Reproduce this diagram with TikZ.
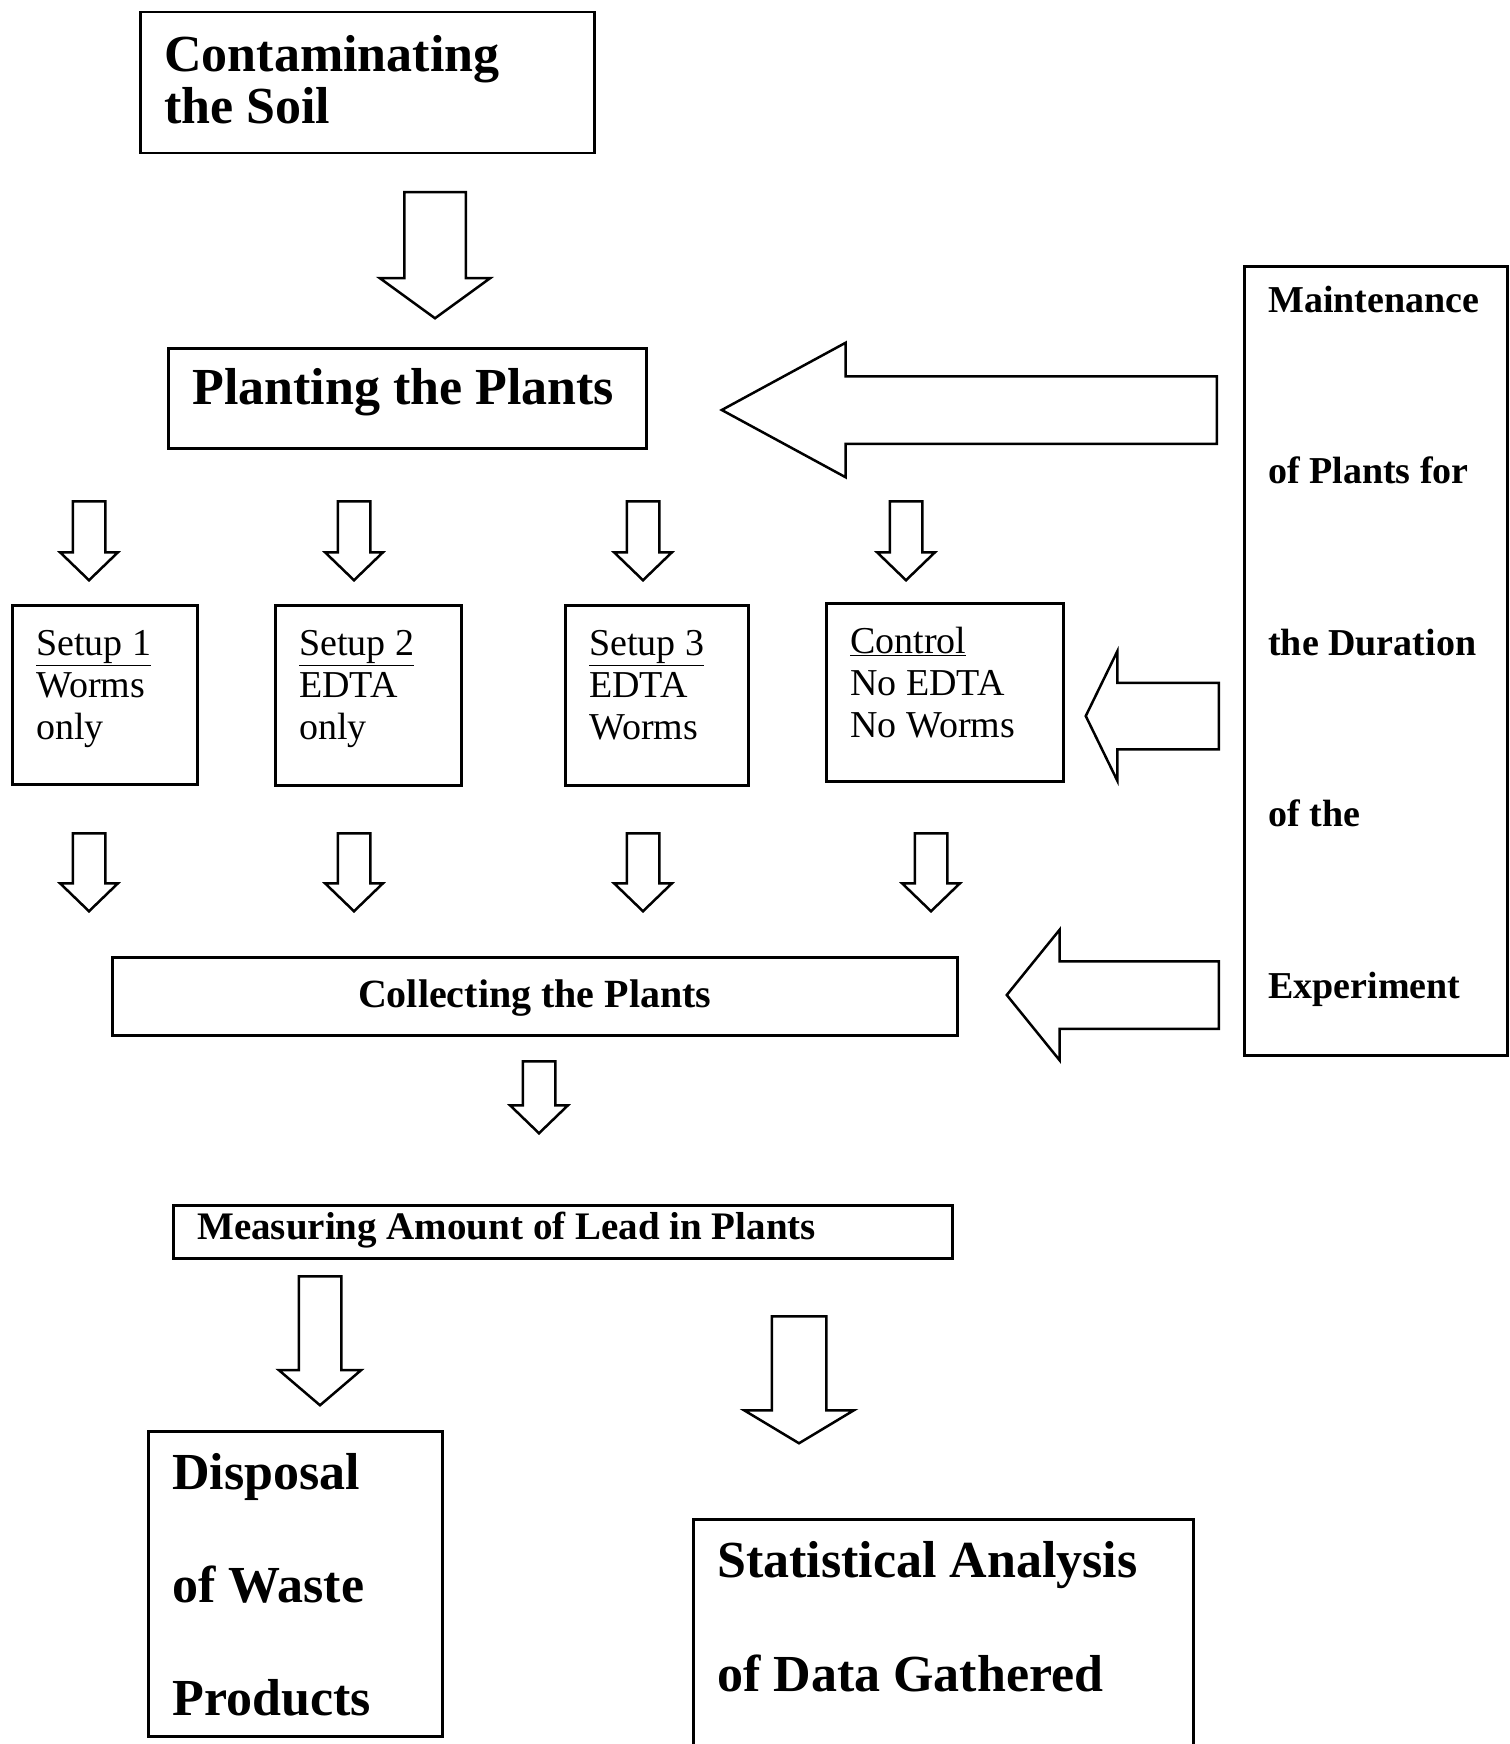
\documentclass[tikz,border=0pt]{standalone}
\usepackage{fontspec}
\setmainfont{Liberation Serif}
\usetikzlibrary{shapes.arrows}

\begin{document}
\begin{tikzpicture}[x=1pt, y=-1pt,
  box/.style={draw, line width=2.5pt, anchor=north west, align=flush left, inner xsep=24pt, inner ysep=0pt},
  big/.style={font=\bfseries\fontsize{52}{52}\selectfont},
  setup/.style={box, text height=50pt, font=\fontsize{38}{42}\selectfont},
  blk/.style={single arrow, draw, line width=2.5pt, inner xsep=0pt, anchor=tail},
  thin/.style={blk, inner ysep=15pt, single arrow head extend=12.5pt, single arrow tip angle=92}]
\useasboundingbox (0,0) rectangle (1509,1744);

\node[box, big, text width=406pt, text height=59pt, text depth=82pt] (soil) at (139,11) {Contaminating\\the Soil};
\node[box, big, text width=430pt, text height=56pt, text depth=44pt] (plant) at (167,347) {Planting the Plants};

\node[setup, text width=137pt, text depth=129pt] (s1) at (11,604) {\underline{Setup 1}\\Worms\\only};
\node[setup, text width=138pt, text depth=130pt] (s2) at (274,604) {\underline{Setup 2}\\EDTA\\only};
\node[setup, text width=135pt, text depth=130pt] (s3) at (564,604) {\underline{Setup 3}\\EDTA\\Worms};
\node[setup, text width=189pt, text depth=128pt] (ctrl) at (825,602) {\underline{Control}\\No EDTA\\No Worms};

\node[box, font=\bfseries\fontsize{38}{171.5}\selectfont, text width=215pt, text height=46pt, text depth=743pt] (maint) at (1243,265)
  {Maintenance\\of Plants for\\the Duration\\of the\\Experiment};

\node[box, font=\bfseries\fontsize{40}{42}\selectfont, align=flush center, text width=797pt, text height=50pt, text depth=28pt] (coll) at (111,956) {Collecting the Plants};
\node[box, font=\bfseries\fontsize{39}{42}\selectfont, text width=731pt, text height=34pt, text depth=19pt] (meas) at (172,1204) {Measuring Amount of Lead in Plants};

\node[box, font=\bfseries\fontsize{52}{113}\selectfont, text width=246pt, text height=58pt, text depth=247pt] (disp) at (147,1430)
  {Disposal\\of Waste\\Products};
\node[box, font=\bfseries\fontsize{52}{114}\selectfont, text width=452pt, text height=58pt, text depth=230pt] (stat) at (692,1518)
  {Statistical Analysis\\of Data Gathered};

\node[blk, rotate=-90, minimum height=126pt, inner ysep=29.5pt, single arrow head extend=24.5pt, single arrow tip angle=108] (a0) at (435,191) {};
\foreach \x/\n in {89/1, 354/2, 643/3, 906/4}
  \node[thin, rotate=-90, minimum height=79pt] (b\n) at (\x,500) {};
\foreach \x/\n in {89/1, 354/2, 643/3, 931/4}
  \node[thin, rotate=-90, minimum height=78pt] (c\n) at (\x,832) {};
\node[thin, rotate=-90, minimum height=72pt] (a1) at (539,1060) {};
\node[blk, rotate=-90, minimum height=129pt, inner ysep=20pt, single arrow head extend=20pt, single arrow tip angle=99] (a2) at (320,1275) {};
\node[blk, rotate=-90, minimum height=127pt, inner ysep=26pt, single arrow head extend=27.5pt, single arrow tip angle=118] (a3) at (799,1315) {};

\node[blk, rotate=180, minimum height=495pt, inner ysep=32.5pt, single arrow head extend=33.5pt, single arrow tip angle=57] (m1) at (1218,410) {};
\node[blk, rotate=180, minimum height=133pt, inner ysep=32pt, single arrow head extend=31.5pt, single arrow tip angle=128] (m2) at (1220,716) {};
\node[blk, rotate=180, minimum height=212pt, inner ysep=32.5pt, single arrow head extend=31.5pt, single arrow tip angle=102] (m3) at (1220,995) {};
\end{tikzpicture}
\end{document}
